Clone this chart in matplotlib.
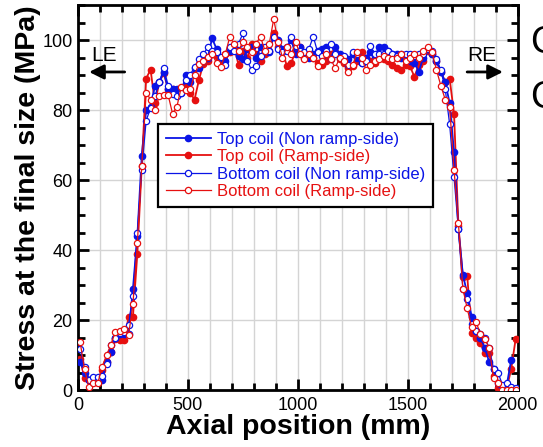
import numpy as np
import matplotlib
matplotlib.use("Agg")
from matplotlib import pyplot as plt
from matplotlib.ticker import MultipleLocator

plt.rcParams['font.family'] = ['Liberation Sans', 'DejaVu Sans']

# axial measuring positions (mm)
x_mm = [10, 30, 50, 70, 90, 110, 130, 150, 170, 190,
        210, 230, 250, 270, 290, 310, 330, 350, 370, 390,
        410, 430, 450, 470, 490, 510, 530, 550, 570, 590,
        610, 630, 650, 670, 690, 710, 730, 750, 770, 790,
        810, 830, 850, 870, 890, 910, 930, 950, 970, 990,
        1010, 1030, 1050, 1070, 1090, 1110, 1130, 1150, 1170, 1190,
        1210, 1230, 1250, 1270, 1290, 1310, 1330, 1350, 1370, 1390,
        1410, 1430, 1450, 1470, 1490, 1510, 1530, 1550, 1570, 1590,
        1610, 1630, 1650, 1670, 1690, 1710, 1730, 1750, 1770, 1790,
        1810, 1830, 1850, 1870, 1890, 1910, 1930, 1950, 1970, 1990]

# Top coil (Non ramp-side)
top_non_ramp = [8, 5, 3, 3, 3, 3, 8, 11, 15, 16,
                16, 16, 29, 44, 67, 80, 81, 87, 88, 91,
                86, 86, 86, 85, 90, 88, 92, 92, 94, 95,
                100.5, 97.5, 95, 94, 97, 98, 95.5, 94.5, 97.5, 98,
                95, 98, 97, 96.5, 101, 100, 97.5, 98, 100, 96,
                98, 95.5, 94.8, 96, 97, 97.5, 98, 94.5, 98, 96,
                94.5, 94.5, 96, 95, 93.5, 95, 96.5, 95.5, 98, 98,
                97, 96, 96, 95, 95, 94, 93.5, 91, 95, 97.5,
                96, 94, 91, 88, 82, 68, 46, 33, 27.6, 21,
                17, 15, 12, 8, 6, 2, 1, 1.5, 8.6, np.nan]

# Top coil (Ramp-side)
top_ramp = [9, 3.3, 3, 3, 3, 5.7, 8, 11, 14.5, 14.3,
            14.3, 20.8, 21, 39, 64, 89, 91.6, 82, 88, 90.5,
            86, 86, 85.7, 85.7, 86.6, 85, 83, 88.6, 93.3, 94,
            96, 95.5, 94, 96, 96.5, 98, 93, 97, 95, 99,
            96, 94, 96, 97, 102, 98, 97, 92.5, 93.5, 97,
            98, 95, 96, 95, 93.5, 93, 94, 96, 96.5, 94.5,
            93.5, 92, 92.5, 94, 96.5, 95, 94, 93.5, 95, 94.5,
            94, 93, 92, 91.5, 93, 92.5, 89.5, 93, 94, 97,
            96, 94, 91, 88, 89, 79, 47, 32.4, 32.6, 16.4,
            15, 13.3, 10.5, 10.5, 3.9, 0.5, 0, 0.5, 6, 14.5]

# Bottom coil (Non ramp-side)
bottom_non_ramp = [11.6, 6.5, 3, 3.6, 3.6, 4, 7.4, 12.9, 14.8, 16.4,
                   16.7, 18.6, 27, 45, 63, 77, 80.6, 84, 88, 92,
                   87, 84.5, 84, 85, 88.6, 90, 92.4, 94.5, 96, 97.9,
                   97, 96.7, 95.2, 93, 98, 97, 99, 101.9, 94, 91.4,
                   92.5, 95.5, 98, 97, 101, 97.5, 96.5, 97, 101, 98.3,
                   97, 96.5, 97.5, 101, 96.5, 95.5, 97, 99, 96, 95,
                   95.5, 93, 96.5, 96, 93.5, 94, 98.3, 96, 96, 96,
                   97, 96, 95.5, 96, 96, 96, 95.5, 96, 96, 97.4,
                   97, 94.7, 91.4, 86, 76, 60.8, 46, 29, 26, 19,
                   17, 16, 15, 12, 6, 5, 1.5, 2, 0.8, 0.5]

# Bottom coil (Ramp-side)
bottom_ramp = [13.6, 5.9, 0.8, 1.9, 1.9, 6.7, 10, 13, 16.7, 17,
               17.3, 15.7, 24.6, 42, 64, 85, 83, 80, 84, 84.3,
               84.3, 79, 81, 86.7, 85.7, 86, 90, 93.3, 94, 95.2,
               96, 93.5, 92.4, 96, 100.9, 99, 97, 99.5, 98, 96.5,
               99, 101, 97, 99, 106, 99.5, 95, 98, 96, 99.5,
               96, 94.5, 96, 95, 92.5, 94, 96, 94.5, 92, 95,
               94, 91, 93, 96.5, 95, 91.5, 93, 94, 94.5, 95.5,
               95, 94.5, 95, 96, 94, 95, 96, 95, 97, 98,
               96.5, 91.5, 87, 83, 81, 63, 47.6, 29, 23.3, 18,
               19.5, 16, 14.5, 12, 3.4, 2, 0, 0, 0, 0]

series_labels = ["Top coil (Non ramp-side)", "Top coil (Ramp-side)",
                 "Bottom coil (Non ramp-side)", "Bottom coil (Ramp-side)"]

BLUE = "#0a14e6"
RED = "#e61010"

fig = plt.figure(figsize=(5.43, 4.47), dpi=100)
ax = fig.add_axes([0.1436, 0.1275, 0.810, 0.861])

ax.plot(x_mm, top_non_ramp, color=BLUE, lw=1.3, marker='o', ms=4.5,
        mfc=BLUE, mec=BLUE, label=series_labels[0], zorder=4)
ax.plot(x_mm, top_ramp, color=RED, lw=1.3, marker='o', ms=4.5,
        mfc=RED, mec=RED, label=series_labels[1], zorder=3)
ax.plot(x_mm, bottom_non_ramp, color=BLUE, lw=0.9, marker='o', ms=4.5,
        mfc='white', mec=BLUE, mew=0.9, label=series_labels[2], zorder=5)
ax.plot(x_mm, bottom_ramp, color=RED, lw=0.9, marker='o', ms=4.5,
        mfc='white', mec=RED, mew=0.9, label=series_labels[3], zorder=6)

ax.set_xlim(0, 2000)
ax.set_ylim(0, 110)
ax.xaxis.set_major_locator(MultipleLocator(500))
ax.xaxis.set_minor_locator(MultipleLocator(100))
ax.yaxis.set_major_locator(MultipleLocator(20))
ax.yaxis.set_minor_locator(MultipleLocator(5))
ax.set_yticks([0, 20, 40, 60, 80, 100])

ax.grid(True, which='minor', axis='x', color='#d4d4d4', lw=1)
ax.grid(True, which='major', axis='x', color='#d4d4d4', lw=1)
ax.grid(True, which='major', axis='y', color='#d4d4d4', lw=1)
ax.set_axisbelow(True)

ax.tick_params(which='both', direction='in', top=True, right=True, width=2)
ax.tick_params(which='major', length=8, labelsize=13, pad=4)
ax.tick_params(which='minor', length=5)
ax.tick_params(axis='x', which='major', pad=5)
for s in ax.spines.values():
    s.set_linewidth(2)

ax.set_xlabel("Axial position (mm)", fontsize=20.5, fontweight='bold', labelpad=0)
ax.set_ylabel("Stress at the final size (MPa)", fontsize=20.5, fontweight='bold', labelpad=1)

# end markers
ax.text(118, 95.5, "LE", fontsize=15, ha='center', va='center')
ax.annotate("", xy=(38, 90.9), xytext=(225, 90.9),
            arrowprops=dict(arrowstyle='-|>', color='black', lw=2, mutation_scale=22))
ax.text(1838, 95.5, "RE", fontsize=15, ha='center', va='center')
ax.annotate("", xy=(1945, 90.9), xytext=(1757, 90.9),
            arrowprops=dict(arrowstyle='-|>', color='black', lw=2, mutation_scale=22))

leg = ax.legend(loc='upper left', bbox_to_anchor=(0.182, 0.691), borderaxespad=0,
                fontsize=12, handlelength=2.7, handletextpad=0.4, labelspacing=0.15,
                fancybox=False, edgecolor='black', framealpha=1, borderpad=0.45)
leg.get_frame().set_linewidth(1.6)
for t, c in zip(leg.get_texts(), [BLUE, RED, BLUE, RED]):
    t.set_color(c)

# cut-off text at the right edge of the source slide
fig.text(530 / 543, 1 - 43 / 447, "C", fontsize=27, va='center', ha='left')
fig.text(530 / 543, 1 - 98 / 447, "C", fontsize=27, va='center', ha='left')

fig.savefig("out.png", dpi=100)
